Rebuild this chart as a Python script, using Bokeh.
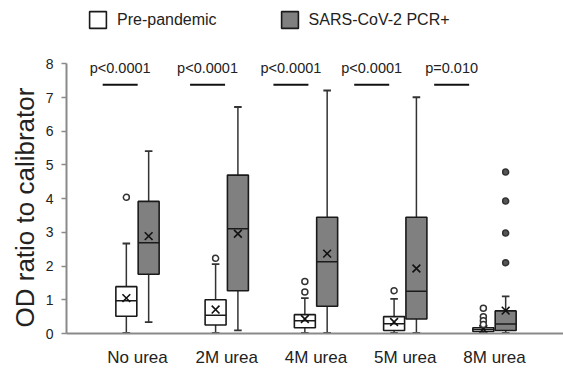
import numpy as np
from bokeh.plotting import figure
from bokeh.models import (ColumnDataSource, Range1d, FixedTicker, Legend, LegendItem,
                          LabelSet, Title)
from bokeh.core.properties import value
from bokeh.embed import file_html
from bokeh.resources import INLINE

# ---------------- data ----------------
categories = ["No urea", "2M urea", "4M urea", "5M urea", "8M urea"]

pre_lo   = [0.02, 0.02, 0.02, 0.02, 0.01]
pre_q1   = [0.51, 0.25, 0.17, 0.09, 0.06]
pre_med  = [0.97, 0.54, 0.38, 0.29, 0.12]
pre_q3   = [1.39, 1.00, 0.56, 0.50, 0.17]
pre_hi   = [2.67, 2.06, 1.05, 1.03, 0.21]
pre_mean = [1.05, 0.71, 0.43, 0.34, 0.13]
pre_out_cat = ["No urea", "2M urea", "4M urea", "4M urea", "5M urea",
               "8M urea", "8M urea", "8M urea", "8M urea"]
pre_out_val = [4.04, 2.23, 1.54, 1.23, 1.27, 0.75, 0.50, 0.38, 0.27]

pcr_lo   = [0.34, 0.09, 0.02, 0.02, 0.02]
pcr_q1   = [1.76, 1.27, 0.81, 0.43, 0.09]
pcr_med  = [2.69, 3.11, 2.13, 1.25, 0.28]
pcr_q3   = [3.92, 4.70, 3.45, 3.45, 0.67]
pcr_hi   = [5.41, 6.72, 7.21, 7.01, 1.10]
pcr_mean = [2.89, 2.96, 2.37, 1.93, 0.68]
pcr_out_cat = ["8M urea", "8M urea", "8M urea", "8M urea"]
pcr_out_val = [4.79, 3.93, 2.98, 2.10]

p_texts = ["p<0.0001", "p<0.0001", "p<0.0001", "p<0.0001", "p=0.010"]
sig_x = [0.806, 1.785, 2.719, 3.624, 4.520]
sig_line_y = 7.38
sig_text_y = 7.87

y_ticks = [0, 1, 2, 3, 4, 5, 6, 7, 8]
y_title = "OD ratio to calibrator"

# ---------------- styling ----------------
FONT = "Liberation Sans"
GRAY = "#808080"
TXT = "#222222"
AX = "#8a8a8a"
BOX_W = 0.235
OFF = 0.125
CAP = 0.085

idx = {c: i + 1 for i, c in enumerate(categories)}
cx = np.arange(1, len(categories) + 1, dtype=float)

p = figure(width=563, height=369, output_backend="svg", toolbar_location=None,
           x_range=Range1d(0.2045, 5.773), y_range=Range1d(0, 9.88),
           min_border_left=66, min_border_right=0, min_border_top=0,
           min_border_bottom=33)
p.outline_line_color = None
p.grid.visible = False
p.background_fill_color = "white"
p.border_fill_color = "white"


def draw_group(xs, lo, q1, med, q3, hi, mean, fill, out_cat, out_val, out_fill):
    xs = np.asarray(xs)
    src = ColumnDataSource(dict(x=xs, lo=lo, q1=q1, med=med, q3=q3, hi=hi, mean=mean,
                                xl=xs - BOX_W / 2, xr=xs + BOX_W / 2,
                                cl=xs - CAP / 2, cr=xs + CAP / 2))
    p.segment("x", "q3", "x", "hi", source=src, line_color="#333333", line_width=1.5)
    p.segment("x", "lo", "x", "q1", source=src, line_color="#333333", line_width=1.5)
    p.segment("cl", "hi", "cr", "hi", source=src, line_color="#333333", line_width=1.8)
    p.segment("cl", "lo", "cr", "lo", source=src, line_color="#333333", line_width=1.8)
    box = p.vbar(x="x", width=BOX_W, bottom="q1", top="q3", source=src,
                 fill_color=fill, line_color="#1a1a1a", line_width=1.6)
    p.segment("xl", "med", "xr", "med", source=src, line_color="#1a1a1a", line_width=1.5)
    p.scatter("x", "mean", source=src, marker="x", size=11, line_color="#111111",
              line_width=1.6)
    if out_val:
        off = xs[0] - 1.0
        ox = [idx[c] + off for c in out_cat]
        osrc = ColumnDataSource(dict(x=ox, y=out_val))
        p.scatter("x", "y", source=osrc, marker="circle", size=6, fill_color=out_fill,
                  line_color="#333333", line_width=1.5)
    return box


box_pre = draw_group(cx - OFF, pre_lo, pre_q1, pre_med, pre_q3, pre_hi, pre_mean,
                     "white", pre_out_cat, pre_out_val, "white")
box_pcr = draw_group(cx + OFF, pcr_lo, pcr_q1, pcr_med, pcr_q3, pcr_hi, pcr_mean,
                     GRAY, pcr_out_cat, pcr_out_val, "#555555")

# significance bars and labels
sx = np.asarray(sig_x)
ssrc = ColumnDataSource(dict(x0=sx - 0.196, x1=sx + 0.196, y=[sig_line_y] * len(sx),
                             x=sx, ty=[sig_text_y] * len(sx), t=p_texts))
p.segment("x0", "y", "x1", "y", source=ssrc, line_color="#111111", line_width=2.2)
p.add_layout(LabelSet(x="x", y="ty", text="t", source=ssrc, text_align="center",
                      text_baseline="middle", text_font=value(FONT),
                      text_font_size=value("14.5px"), text_color=TXT))

# axes
xa = p.xaxis[0]
xa.ticker = FixedTicker(ticks=list(cx))
xa.major_label_overrides = {i + 1: c for i, c in enumerate(categories)}
xa.major_tick_line_color = None
xa.minor_tick_line_color = None
xa.axis_line_color = AX
xa.axis_line_width = 2
xa.major_label_text_font = FONT
xa.major_label_text_font_size = "17px"
xa.major_label_text_color = TXT
xa.major_label_standoff = 8

ya = p.yaxis[0]
ya.ticker = FixedTicker(ticks=y_ticks)
ya.bounds = (0, 8)
ya.minor_tick_line_color = None
ya.major_tick_in = 0
ya.major_tick_out = 5
ya.major_tick_line_color = AX
ya.major_tick_line_width = 1.5
ya.axis_line_color = AX
ya.axis_line_width = 2
ya.major_label_text_font = FONT
ya.major_label_text_font_size = "14px"
ya.major_label_text_color = TXT
ya.major_label_standoff = 8

# y title as a side-panel title, anchored near the bottom of the axis
p.add_layout(Title(text=y_title, align="left", offset=6, standoff=5,
                   text_font=FONT, text_font_size="26px", text_font_style="normal",
                   text_color=TXT), "left")

legend = Legend(items=[LegendItem(label="Pre-pandemic", renderers=[box_pre]),
                       LegendItem(label="SARS-CoV-2 PCR+", renderers=[box_pcr])],
                location=(21, 303), orientation="horizontal",
                glyph_width=21, glyph_height=21, label_standoff=9, spacing=62,
                padding=0, margin=0, border_line_color=None,
                background_fill_alpha=0, label_text_font=FONT,
                label_text_font_size="16px", label_text_color=TXT)
p.add_layout(legend)

open("out.html", "w").write(file_html(p, INLINE))
